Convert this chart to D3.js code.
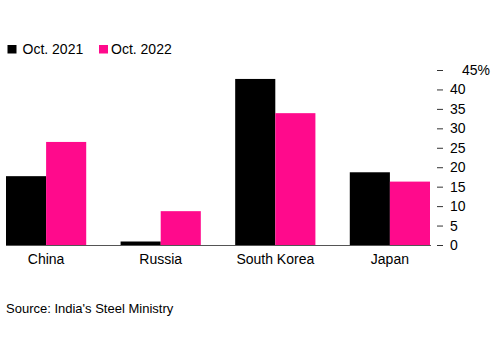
<!DOCTYPE html>
<html>
<head>
<meta charset="utf-8">
<script src="https://cdn.jsdelivr.net/npm/d3@7"></script>
<style>
  body { margin: 0; background: #fff; }
  text { font-family: "Liberation Sans", Arial, sans-serif; }
</style>
</head>
<body>
<div id="chart"></div>
<script>
// chart data
const countries = ["China", "Russia", "South Korea", "Japan"]
const series = ["Oct. 2021", "Oct. 2022"]
const oct2021 = [17.7, 0.9, 42.7, 18.7]
const oct2022 = [26.5, 8.7, 33.9, 16.3]
const yTicks = [0, 5, 10, 15, 20, 25, 30, 35, 40, 45]

const width = 500
const height = 350
const colors = ["#000000", "#ff0a8c"]

const svg = d3.select("#chart")
  .append("svg")
  .attr("width", width)
  .attr("height", height)

const x = d3.scaleBand()
  .domain(countries)
  .range([6, 430])
  .paddingInner(0.3)
  .paddingOuter(0)

const xSub = d3.scaleBand()
  .domain(series)
  .range([0, x.bandwidth()])

const y = d3.scaleLinear()
  .domain([0, 45])
  .range([245, 70])

const rows = countries.map((c, i) => ({ country: c, values: [oct2021[i], oct2022[i]] }))

// bars
svg.append("g")
  .selectAll("g")
  .data(rows)
  .join("g")
    .attr("transform", d => "translate(" + x(d.country) + ",0)")
  .selectAll("rect")
  .data(d => d.values.map((v, j) => ({ key: series[j], value: v, j: j })))
  .join("rect")
    .attr("x", d => xSub(d.key))
    .attr("width", xSub.bandwidth())
    .attr("y", d => y(d.value))
    .attr("height", d => y(0) - y(d.value))
    .attr("fill", d => colors[d.j])

// baseline
svg.append("line")
  .attr("x1", 6)
  .attr("x2", 431)
  .attr("y1", y(0) + 0.5)
  .attr("y2", y(0) + 0.5)
  .attr("stroke", "#555")
  .attr("stroke-width", 1)

// y axis on the right
const yAxis = svg.append("g")
  .attr("transform", "translate(437,0)")
  .call(d3.axisRight(y).tickValues(yTicks).tickSize(6).tickPadding(7)
    .tickFormat(d => d === 45 ? "45%" : d))
yAxis.select(".domain").remove()
yAxis.selectAll(".tick line").attr("stroke", "#333").attr("x1", 0)
yAxis.selectAll(".tick text")
  .attr("fill", "#000")
  .style("font-size", "14px")
  .attr("font-family", null)
  .attr("dx", d => d === 45 ? 12 : 0)

// x labels
svg.append("g")
  .selectAll("text")
  .data(countries)
  .join("text")
    .attr("x", d => x(d) + x.bandwidth() / 2)
    .attr("y", 264)
    .attr("text-anchor", "middle")
    .style("font-size", "14px")
    .attr("fill", "#000")
    .text(d => d)

// legend
const legend = svg.append("g")
const legX = [7.5, 99]
const legTextX = [22.5, 111]
series.forEach((s, i) => {
  legend.append("rect")
    .attr("x", legX[i])
    .attr("y", 45)
    .attr("width", 9)
    .attr("height", 8.5)
    .attr("fill", colors[i])
  legend.append("text")
    .attr("x", legTextX[i])
    .attr("y", 54)
    .style("font-size", "14px")
    .attr("fill", "#000")
    .text(s)
})

// source
svg.append("text")
  .attr("x", 6)
  .attr("y", 313)
  .style("font-size", "13px")
  .attr("fill", "#000")
  .text("Source: India's Steel Ministry")
</script>
</body>
</html>
